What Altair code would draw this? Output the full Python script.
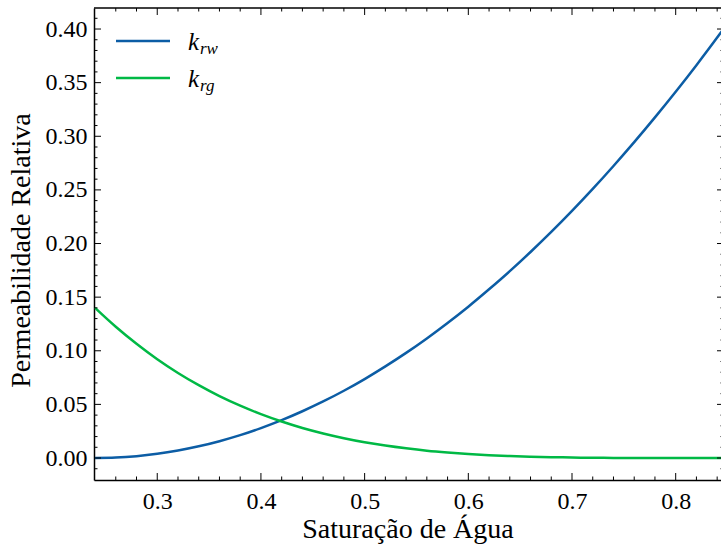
import altair as alt
import pandas as pd

# Water saturation sample points
sw = [0.24, 0.26, 0.28, 0.30, 0.32, 0.34, 0.36, 0.38, 0.40, 0.42, 0.44, 0.46,
      0.48, 0.50, 0.52, 0.54, 0.56, 0.58, 0.60, 0.62, 0.64, 0.66, 0.68, 0.70,
      0.72, 0.74, 0.76, 0.78, 0.80, 0.82, 0.84, 0.846]
krw = [0.0, 0.0004, 0.0017, 0.0039, 0.0070, 0.0109, 0.0157, 0.0213, 0.0279,
       0.0353, 0.0436, 0.0527, 0.0627, 0.0736, 0.0854, 0.0980, 0.1115, 0.1259,
       0.1411, 0.1573, 0.1742, 0.1921, 0.2108, 0.2304, 0.2509, 0.2723, 0.2945,
       0.3176, 0.3415, 0.3663, 0.3920, 0.4000]
krg = [0.1400, 0.1224, 0.1065, 0.0921, 0.0793, 0.0679, 0.0577, 0.0488, 0.0409,
       0.0340, 0.0280, 0.0229, 0.0185, 0.0147, 0.0116, 0.0090, 0.0068, 0.0051,
       0.0037, 0.0026, 0.0018, 0.0012, 0.0008, 0.0005, 0.0002, 0.0001, 0.0,
       0.0, 0.0, 0.0, 0.0, 0.0]

series_names = ["krw", "krg"]
series_colors = ["#0C5DA5", "#00B945"]

x_major = [0.3, 0.4, 0.5, 0.6, 0.7, 0.8]
x_minor = [0.26, 0.28, 0.32, 0.34, 0.36, 0.38, 0.42, 0.44, 0.46, 0.48, 0.52,
           0.54, 0.56, 0.58, 0.62, 0.64, 0.66, 0.68, 0.72, 0.74, 0.76, 0.78,
           0.82, 0.84]
y_major = [0.0, 0.05, 0.10, 0.15, 0.20, 0.25, 0.30, 0.35, 0.40]
y_minor = [-0.01, 0.01, 0.02, 0.03, 0.04, 0.06, 0.07, 0.08, 0.09, 0.11, 0.12,
           0.13, 0.14, 0.16, 0.17, 0.18, 0.19, 0.21, 0.22, 0.23, 0.24, 0.26,
           0.27, 0.28, 0.29, 0.31, 0.32, 0.33, 0.34, 0.36, 0.37, 0.38, 0.39,
           0.41]

x_title = "Saturação de Água"
y_title = "Permeabilidade Relativa"

FONT = "Liberation Serif"
W, H = 627, 472
X_DOMAIN = [0.239, 0.8437]
Y_DOMAIN = [-0.0205, 0.4196]

rows = []
for s, a, b in zip(sw, krw, krg):
    rows.append({"sw": s, "kr": a, "serie": "krw"})
    rows.append({"sw": s, "kr": b, "serie": "krg"})
df = pd.DataFrame(rows)

xs = alt.Scale(domain=X_DOMAIN, nice=False, zero=False)
ys = alt.Scale(domain=Y_DOMAIN, nice=False, zero=False)

x_axis = alt.Axis(values=x_major, format=".1f", title=x_title,
                  labelFont=FONT, labelFontWeight="normal",
                  labelPadding=9, titlePadding=2)
y_axis = alt.Axis(values=y_major, format=".2f", title=y_title,
                  labelFont=FONT, labelFontWeight="normal",
                  labelPadding=7, titlePadding=10, titleY=242)

lines = alt.Chart(df).mark_line(strokeWidth=2.5, interpolate="monotone").encode(
    x=alt.X("sw:Q", scale=xs, axis=x_axis),
    y=alt.Y("kr:Q", scale=ys, axis=y_axis),
    color=alt.Color("serie:N", scale=alt.Scale(domain=series_names, range=series_colors),
                    legend=None),
    detail="serie:N",
)

xmaj = pd.DataFrame({"v": x_major})
xmin = pd.DataFrame({"v": x_minor})
ymaj = pd.DataFrame({"v": y_major})
ymin = pd.DataFrame({"v": y_minor})


def xticks(d, length):
    base = alt.Chart(d).mark_rule(color="black", strokeWidth=1)
    bottom = base.encode(x=alt.X("v:Q", scale=xs, axis=x_axis),
                         y=alt.value(H), y2=alt.value(H - length))
    top = base.encode(x=alt.X("v:Q", scale=xs, axis=x_axis),
                      y=alt.value(0), y2=alt.value(length))
    return [bottom, top]


def yticks(d, length):
    base = alt.Chart(d).mark_rule(color="black", strokeWidth=1)
    left = base.encode(y=alt.Y("v:Q", scale=ys, axis=y_axis),
                       x=alt.value(0), x2=alt.value(length))
    right = base.encode(y=alt.Y("v:Q", scale=ys, axis=y_axis),
                        x=alt.value(W + 3 - length), x2=alt.value(W + 3))
    return [left, right]


ticks = xticks(xmaj, 7) + xticks(xmin, 3.5) + yticks(ymaj, 7) + yticks(ymin, 3.5)

top_spine = alt.Chart(pd.DataFrame({"a": [0]})).mark_rule(
    color="black", strokeWidth=1.5).encode(
    x=alt.value(0), x2=alt.value(W + 3), y=alt.value(0))

# Manual legend with subscripts
leg_df = pd.DataFrame({"serie": series_names, "main": ["k", "k"], "sub": ["rw", "rg"]})
legend_layers = []
for i, (name, col) in enumerate(zip(series_names, series_colors)):
    d = leg_df[leg_df["serie"] == name]
    yline = 33 + i * 37
    legend_layers.append(alt.Chart(d).mark_rule(color=col, strokeWidth=2.5).encode(
        x=alt.value(22), x2=alt.value(76), y=alt.value(yline)))
    legend_layers.append(alt.Chart(d).mark_text(
        font=FONT, fontSize=25, fontStyle="italic", align="left", baseline="alphabetic",
        color="black").encode(x=alt.value(94), y=alt.value(yline + 9), text="main:N"))
    legend_layers.append(alt.Chart(d).mark_text(
        font=FONT, fontSize=17, fontStyle="italic", align="left", baseline="alphabetic",
        color="black").encode(x=alt.value(106), y=alt.value(yline + 13), text="sub:N"))

chart = alt.layer(lines, *ticks, top_spine, *legend_layers).properties(
    width=W, height=H,
    autosize=alt.AutoSizeParams(type="none"),
    padding={"left": 94, "top": 8, "right": 0, "bottom": 66},
    background="white",
).configure_view(stroke=None).configure_axis(
    ticks=False, grid=False,
    domainColor="black", domainWidth=1.5,
    labelFont=FONT, labelFontSize=24, labelColor="black",
    titleFont=FONT, titleFontSize=28, titleFontWeight="normal", titleColor="black",
).configure_text(font=FONT)

chart.save("out.html", embed_options={"renderer": "svg", "actions": False})
